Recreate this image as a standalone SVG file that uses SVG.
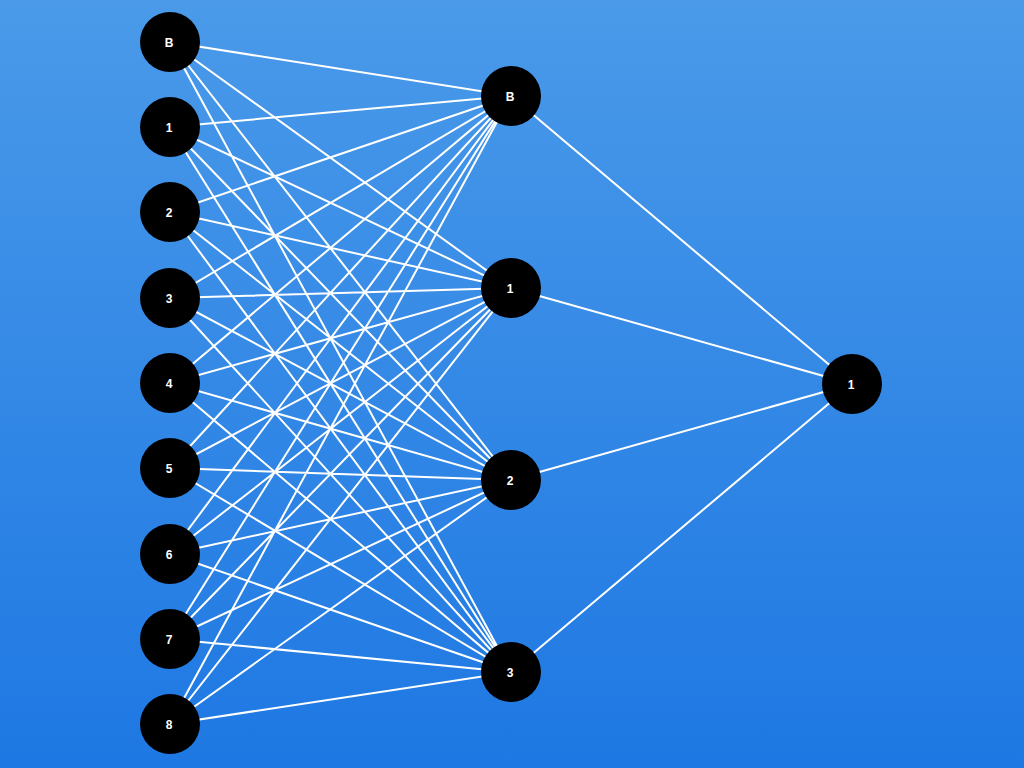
<svg xmlns="http://www.w3.org/2000/svg" width="1024" height="768" viewBox="0 0 1024 768">
<defs>
<linearGradient id="bg" x1="0" y1="0" x2="0" y2="1">
<stop offset="0" stop-color="#4A9AE9"/>
<stop offset="1" stop-color="#1E78E3"/>
</linearGradient>
</defs>
<style>
.e{stroke:#FFFFFF;stroke-width:2;fill:none}
.n{fill:#000000}
.t{fill:#FFFFFF;font-family:"Liberation Sans",Arial,sans-serif;font-size:12px;font-weight:bold;text-anchor:middle;dominant-baseline:central}
</style>
<rect width="1024" height="768" fill="url(#bg)"/>
<g id="connectors">
<path class="e" d="M170 42L511 96M170 42L511 288M170 42L511 480M170 42L511 672
M170 127L511 96M170 127L511 288M170 127L511 480M170 127L511 672
M170 212L511 96M170 212L511 288M170 212L511 480M170 212L511 672
M170 298L511 96M170 298L511 288M170 298L511 480M170 298L511 672
M170 383L511 96M170 383L511 288M170 383L511 480M170 383L511 672
M170 468L511 96M170 468L511 288M170 468L511 480M170 468L511 672
M170 554L511 96M170 554L511 288M170 554L511 480M170 554L511 672
M170 639L511 96M170 639L511 288M170 639L511 480M170 639L511 672
M170 724L511 96M170 724L511 288M170 724L511 480M170 724L511 672
M511 96L852 384M511 288L852 384M511 480L852 384M511 672L852 384"/>
</g>
<g id="in-B"><circle class="n" cx="170" cy="42" r="30"/><text class="t" x="169" y="43">B</text></g>
<g id="in-1"><circle class="n" cx="170" cy="127" r="30"/><text class="t" x="169" y="128">1</text></g>
<g id="in-2"><circle class="n" cx="170" cy="212" r="30"/><text class="t" x="169" y="213">2</text></g>
<g id="in-3"><circle class="n" cx="170" cy="298" r="30"/><text class="t" x="169" y="299">3</text></g>
<g id="in-4"><circle class="n" cx="170" cy="383" r="30"/><text class="t" x="169" y="384">4</text></g>
<g id="in-5"><circle class="n" cx="170" cy="468" r="30"/><text class="t" x="169" y="469">5</text></g>
<g id="in-6"><circle class="n" cx="170" cy="554" r="30"/><text class="t" x="169" y="555">6</text></g>
<g id="in-7"><circle class="n" cx="170" cy="639" r="30"/><text class="t" x="169" y="640">7</text></g>
<g id="in-8"><circle class="n" cx="170" cy="724" r="30"/><text class="t" x="169" y="725">8</text></g>
<g id="hid-B"><circle class="n" cx="511" cy="96" r="30"/><text class="t" x="510" y="97">B</text></g>
<g id="hid-1"><circle class="n" cx="511" cy="288" r="30"/><text class="t" x="510" y="289">1</text></g>
<g id="hid-2"><circle class="n" cx="511" cy="480" r="30"/><text class="t" x="510" y="481">2</text></g>
<g id="hid-3"><circle class="n" cx="511" cy="672" r="30"/><text class="t" x="510" y="673">3</text></g>
<g id="out-1"><circle class="n" cx="852" cy="384" r="30"/><text class="t" x="851" y="385">1</text></g>
</svg>
